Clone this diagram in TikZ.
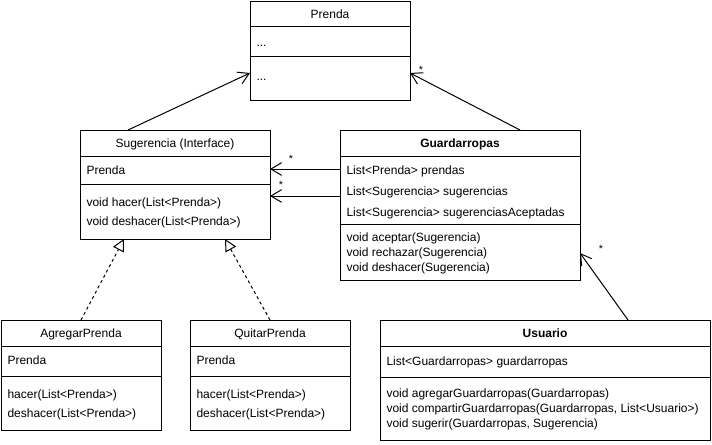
\documentclass[tikz,border=0pt]{standalone}
\usepackage{fontspec}
\setmainfont{Liberation Sans}
\usetikzlibrary{arrows.meta,positioning,calc}

\begin{document}
\begin{tikzpicture}[x=0.75pt,y=-0.75pt,line width=0.75pt,
  font=\fontsize{9pt}{11pt}\selectfont,
  cls/.style 2 args={draw,anchor=north west,inner sep=0pt,outer sep=0pt,
    minimum width=#1*0.75pt,minimum height=#2*0.75pt},
  ttl/.style={inner sep=0pt,text height=6.5pt,text depth=0pt},
  txt/.style={ttl,anchor=west},
  mult/.style={inner sep=0pt,font=\fontsize{8pt}{9pt}\selectfont},
  assoc/.style={-{Straight Barb[length=8pt,width=9.5pt]}},
  impl/.style={dash pattern=on 2.25pt off 2.25pt,
    -{Triangle[open,fill=white,length=9pt,width=9pt]}}]
  \useasboundingbox (0,0) rectangle (712,444);

  % ====== Prenda ======
  \node[cls={160}{99}] (prenda) at (250,1) {};
  \node[ttl] (prenda-t) at (330,14) {Prenda};
  \draw (prenda.west |- 0,26) -- (prenda.east |- 0,26);
  \node[txt] (prenda-a) at (256,42) {...};
  \draw (prenda.west |- 0,56) -- (prenda.east |- 0,56);
  \node[txt] (prenda-m) at (256,76) {...};

  % ====== Sugerencia (interface) ======
  \node[cls={190}{109}] (sug) at (80,130) {};
  \node[ttl] (sug-t) at (175,143) {Sugerencia (Interface)};
  \draw (sug.west |- 0,156) -- (sug.east |- 0,156);
  \node[txt] (sug-a) at (86,170) {Prenda};
  \draw (sug.west |- 0,184) -- (sug.east |- 0,184);
  \node[txt] (sug-m1) at (86,202) {void hacer(List<Prenda>)};
  \node[txt] (sug-m2) at (86,221) {void deshacer(List<Prenda>)};

  % ====== Guardarropas ======
  \node[cls={240}{150}] (guard) at (340,130) {};
  \node[ttl] (guard-t) at (460,143) {\bfseries Guardarropas};
  \draw (guard.west |- 0,156) -- (guard.east |- 0,156);
  \foreach \y/\lbl [count=\i] in {170/List<Prenda> prendas,
      191/List<Sugerencia> sugerencias,
      212/List<Sugerencia> sugerenciasAceptadas}
    \node[txt] (guard-a\i) at (346,\y) {\lbl};
  \draw (guard.west |- 0,224) -- (guard.east |- 0,224);
  \foreach \y/\lbl [count=\i] in {237/void aceptar(Sugerencia),
      252/void rechazar(Sugerencia),
      267/void deshacer(Sugerencia)}
    \node[txt] (guard-m\i) at (346,\y) {\lbl};

  % ====== AgregarPrenda / QuitarPrenda ======
  \node[cls={160}{110}] (agr) at (1,320) {};
  \node[ttl] (agr-t) at (81,333) {AgregarPrenda};
  \node[cls={160}{110}] (quit) at (190,320) {};
  \node[ttl] (quit-t) at (270,333) {QuitarPrenda};
  \foreach \c in {agr,quit}{
    \draw (\c.west |- 0,346) -- (\c.east |- 0,346);
    \draw (\c.west |- 0,376) -- (\c.east |- 0,376);
    \node[txt] (\c-a) at ($(\c.west |- 0,360)+(6,0)$) {Prenda};
    \node[txt] (\c-m1) at ($(\c.west |- 0,394)+(6,0)$) {hacer(List<Prenda>)};
    \node[txt] (\c-m2) at ($(\c.west |- 0,413)+(6,0)$) {deshacer(List<Prenda>)};
  }

  % ====== Usuario ======
  \node[cls={330}{120}] (usr) at (380,320) {};
  \node[ttl] (usr-t) at (545,333) {\bfseries Usuario};
  \draw (usr.west |- 0,346) -- (usr.east |- 0,346);
  \node[txt] (usr-a) at (386,361) {List<Guardarropas> guardarropas};
  \draw (usr.west |- 0,377) -- (usr.east |- 0,377);
  \foreach \y/\lbl [count=\i] in {393/void agregarGuardarropas(Guardarropas),
      408/{void compartirGuardarropas(Guardarropas, List<Usuario>)},
      423/{void sugerir(Guardarropas, Sugerencia)}}
    \node[txt] (usr-m\i) at (386,\y) {\lbl};

  % ====== Associations ======
  \draw[assoc] ($(sug.north west)+(48,0)$) -- ($(prenda.north west)+(0,72)$);
  \draw[assoc] ($(guard.north west)+(180,0)$) -- ($(prenda.north east)+(0,72)$);
  \draw[assoc] ($(guard.north west)+(0,39)$) -- ($(sug.north east)+(0,39)$);
  \draw[assoc] ($(guard.north west)+(0,66)$) -- ($(sug.north east)+(0,66)$);
  \draw[assoc] ($(usr.north west)+(248,0)$) -- ($(guard.north east)+(0,123)$);
  \node[mult] (mult-p) at (421,70) {*};
  \node[mult] (mult-gp) at (291,159) {*};
  \node[mult] (mult-gs) at (281,185) {*};
  \node[mult] (mult-ug) at (601,249) {*};

  % ====== Realizations (dashed) ======
  \draw[impl] (agr.north) -- ($(sug.south west)+(44,0)$);
  \draw[impl] (quit.north) -- ($(sug.south west)+(145,0)$);
\end{tikzpicture}
\end{document}
